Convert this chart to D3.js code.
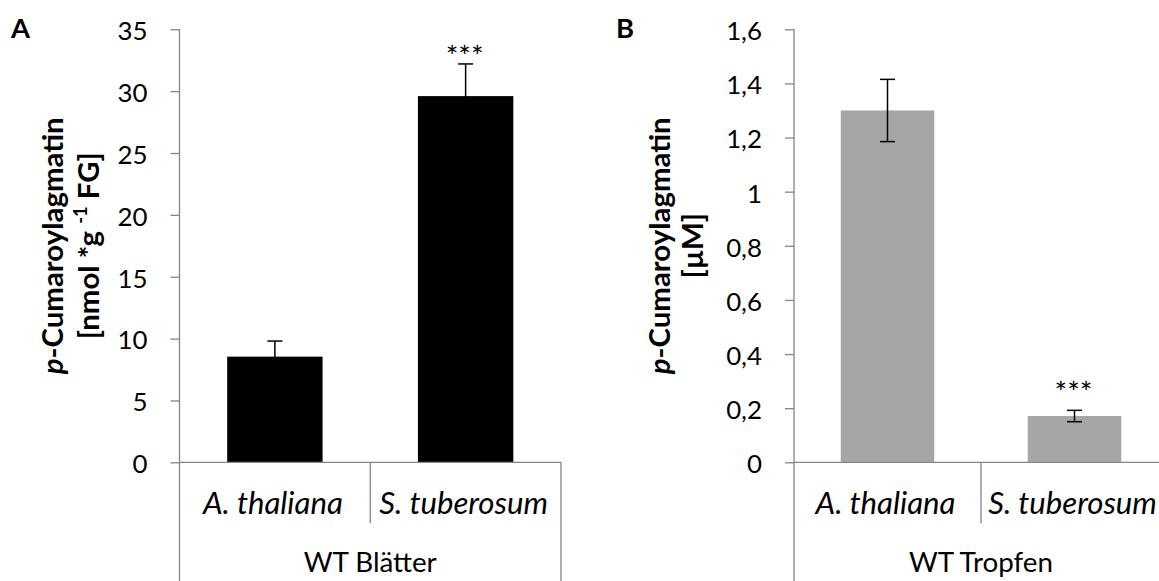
<!DOCTYPE html>
<html>
<head>
<meta charset="utf-8">
<script src="https://cdn.jsdelivr.net/npm/d3@7"></script>
<style>
  body { margin: 0; background: #fff; }
  svg { display: block; font-family: Lato, "Open Sans", sans-serif; }
</style>
</head>
<body>
<div id="chart"></div>
<script>
var width = 1159,
    height = 581;

// data
var categories = ["A. thaliana", "S. tuberosum"];
var groupLabels = ["WT Blätter", "WT Tropfen"];
var significance = ["", "***"];

var leafMeans = [8.54, 29.6];
var leafErrors = [1.26, 2.6];
var leafTicks = [0, 5, 10, 15, 20, 25, 30, 35];
var leafTickLabels = ["0", "5", "10", "15", "20", "25", "30", "35"];

var dropMeans = [1.30, 0.171];
var dropErrors = [0.115, 0.021];
var dropTicks = [0, 0.2, 0.4, 0.6, 0.8, 1.0, 1.2, 1.4, 1.6];
var dropTickLabels = ["0", "0,2", "0,4", "0,6", "0,8", "1", "1,2", "1,4", "1,6"];

var axisColor = "#868686";

var svg = d3.select("#chart").append("svg")
  .attr("width", width)
  .attr("height", height);

// pick a font size so that a sample string gets the width seen in the original
function fitSize(sample, target, weight, style) {
  var t = svg.append("text")
    .style("font-size", "100px")
    .style("font-weight", weight || "normal")
    .style("font-style", style || "normal")
    .text(sample);
  var w = t.node().getComputedTextLength();
  t.remove();
  return 100 * target / w;
}

var tickSize = fitSize("35", 30),
    catSize = fitSize("A. thaliana", 140, "normal", "italic"),
    groupSize = fitSize("WT Blätter", 133),
    letterSize = fitSize("A", 19, "bold"),
    starSize = fitSize("***", 38),
    titleSize = fitSize("p-Cumaroylagmatin", 258, "bold");

var panels = [
  { letter: "A", letterX: 11, left: 179.5, right: 561, means: leafMeans, errors: leafErrors,
    ticks: leafTicks, tickLabels: leafTickLabels, fill: "#000000", group: groupLabels[0],
    title2: "leaf", t1: 63, t2: 99, starGap: 13 },
  { letter: "B", letterX: 616, left: 794, right: 1168, means: dropMeans, errors: dropErrors,
    ticks: dropTicks, tickLabels: dropTickLabels, fill: "#a6a6a6", group: groupLabels[1],
    title2: "drop", t1: 670, t2: 703, starGap: 24 }
];

var y0 = 462.3, yTop = 29.3;

panels.forEach(function(p) {
  var g = svg.append("g");

  var y = d3.scaleLinear()
    .domain([0, d3.max(p.ticks)])
    .range([y0, yTop]);

  var x = d3.scaleBand()
    .domain(categories)
    .range([p.left, p.right])
    .paddingInner(0.5)
    .paddingOuter(0.25);

  // y axis ticks + labels
  var yAxis = d3.axisLeft(y)
    .tickValues(p.ticks)
    .tickFormat(function(d, i) { return p.tickLabels[i]; })
    .tickSize(9)
    .tickPadding(23);

  var ax = g.append("g")
    .attr("transform", "translate(" + p.left + ",0)")
    .call(yAxis)
    .attr("font-family", null)
    .attr("font-size", null);
  ax.select(".domain").remove();
  ax.selectAll(".tick line").attr("stroke", axisColor).attr("stroke-width", 1.3);
  ax.selectAll(".tick text")
    .attr("fill", "#000")
    .style("font-size", tickSize + "px")
    .attr("dy", "0.4em");

  // bars
  g.selectAll("rect.bar")
    .data(categories)
    .enter().append("rect")
    .attr("class", "bar")
    .attr("x", function(d) { return x(d); })
    .attr("width", x.bandwidth())
    .attr("y", function(d, i) { return y(p.means[i]); })
    .attr("height", function(d, i) { return y0 - y(p.means[i]); })
    .attr("fill", p.fill);

  // error bars
  var cap = 7.5;
  categories.forEach(function(d, i) {
    var cx = x(d) + x.bandwidth() / 2,
        hi = y(p.means[i] + p.errors[i]),
        lo = y(p.means[i] - p.errors[i]);
    var e = g.append("g").attr("stroke", "#000").attr("stroke-width", 1.5);
    e.append("line").attr("x1", cx).attr("x2", cx).attr("y1", hi).attr("y2", lo);
    e.append("line").attr("x1", cx - cap).attr("x2", cx + cap).attr("y1", hi).attr("y2", hi);
    e.append("line").attr("x1", cx - cap).attr("x2", cx + cap).attr("y1", lo).attr("y2", lo);

    if (significance[i]) {
      g.append("text")
        .attr("x", cx - 1)
        .attr("y", hi - p.starGap + starSize * 0.55)
        .attr("text-anchor", "middle")
        .style("font-size", starSize + "px")
        .text(significance[i]);
    }
  });

  // category axis frame
  var lines = g.append("g").attr("stroke", axisColor).attr("stroke-width", 1.3);
  lines.append("line").attr("x1", p.left).attr("x2", p.left).attr("y1", yTop).attr("y2", height);
  lines.append("line").attr("x1", p.left).attr("x2", p.right).attr("y1", y0).attr("y2", y0);
  lines.append("line").attr("x1", p.right).attr("x2", p.right).attr("y1", y0).attr("y2", height);
  var mid = x(categories[1]) - x.step() * x.paddingInner() / 2;
  lines.append("line").attr("x1", mid).attr("x2", mid).attr("y1", y0).attr("y2", y0 + 61);

  g.selectAll("text.cat")
    .data(categories)
    .enter().append("text")
    .attr("class", "cat")
    .attr("x", function(d) { return x(d) + x.bandwidth() / 2 - 2; })
    .attr("y", 514)
    .attr("text-anchor", "middle")
    .style("font-size", catSize + "px")
    .style("font-style", "italic")
    .text(function(d) { return d; });

  g.append("text")
    .attr("x", mid)
    .attr("y", 572)
    .attr("text-anchor", "middle")
    .style("font-size", groupSize + "px")
    .text(p.group);

  // panel letter
  g.append("text")
    .attr("x", p.letterX)
    .attr("y", 38)
    .style("font-size", letterSize + "px")
    .style("font-weight", "bold")
    .text(p.letter);

  // y title
  var cy = (y0 + yTop) / 2;
  var t1 = g.append("text")
    .attr("transform", "translate(" + p.t1 + "," + cy + ") rotate(-90)")
    .attr("text-anchor", "middle")
    .style("font-size", titleSize + "px")
    .style("font-weight", "bold");
  t1.append("tspan").style("font-style", "italic").text("p");
  t1.append("tspan").text("-Cumaroylagmatin");

  var t2 = g.append("text")
    .attr("transform", "translate(" + p.t2 + "," + cy + ") rotate(-90)")
    .attr("text-anchor", "middle")
    .style("font-size", titleSize + "px")
    .style("font-weight", "bold");
  if (p.title2 === "leaf") {
    t2.append("tspan").text("[nmol *g ");
    t2.append("tspan").attr("dy", -titleSize * 0.4).style("font-size", (titleSize * 0.62) + "px").text("-1");
    t2.append("tspan").attr("dy", titleSize * 0.4).text(" FG]");
  } else {
    t2.text("[µM]");
  }
});
</script>
</body>
</html>
